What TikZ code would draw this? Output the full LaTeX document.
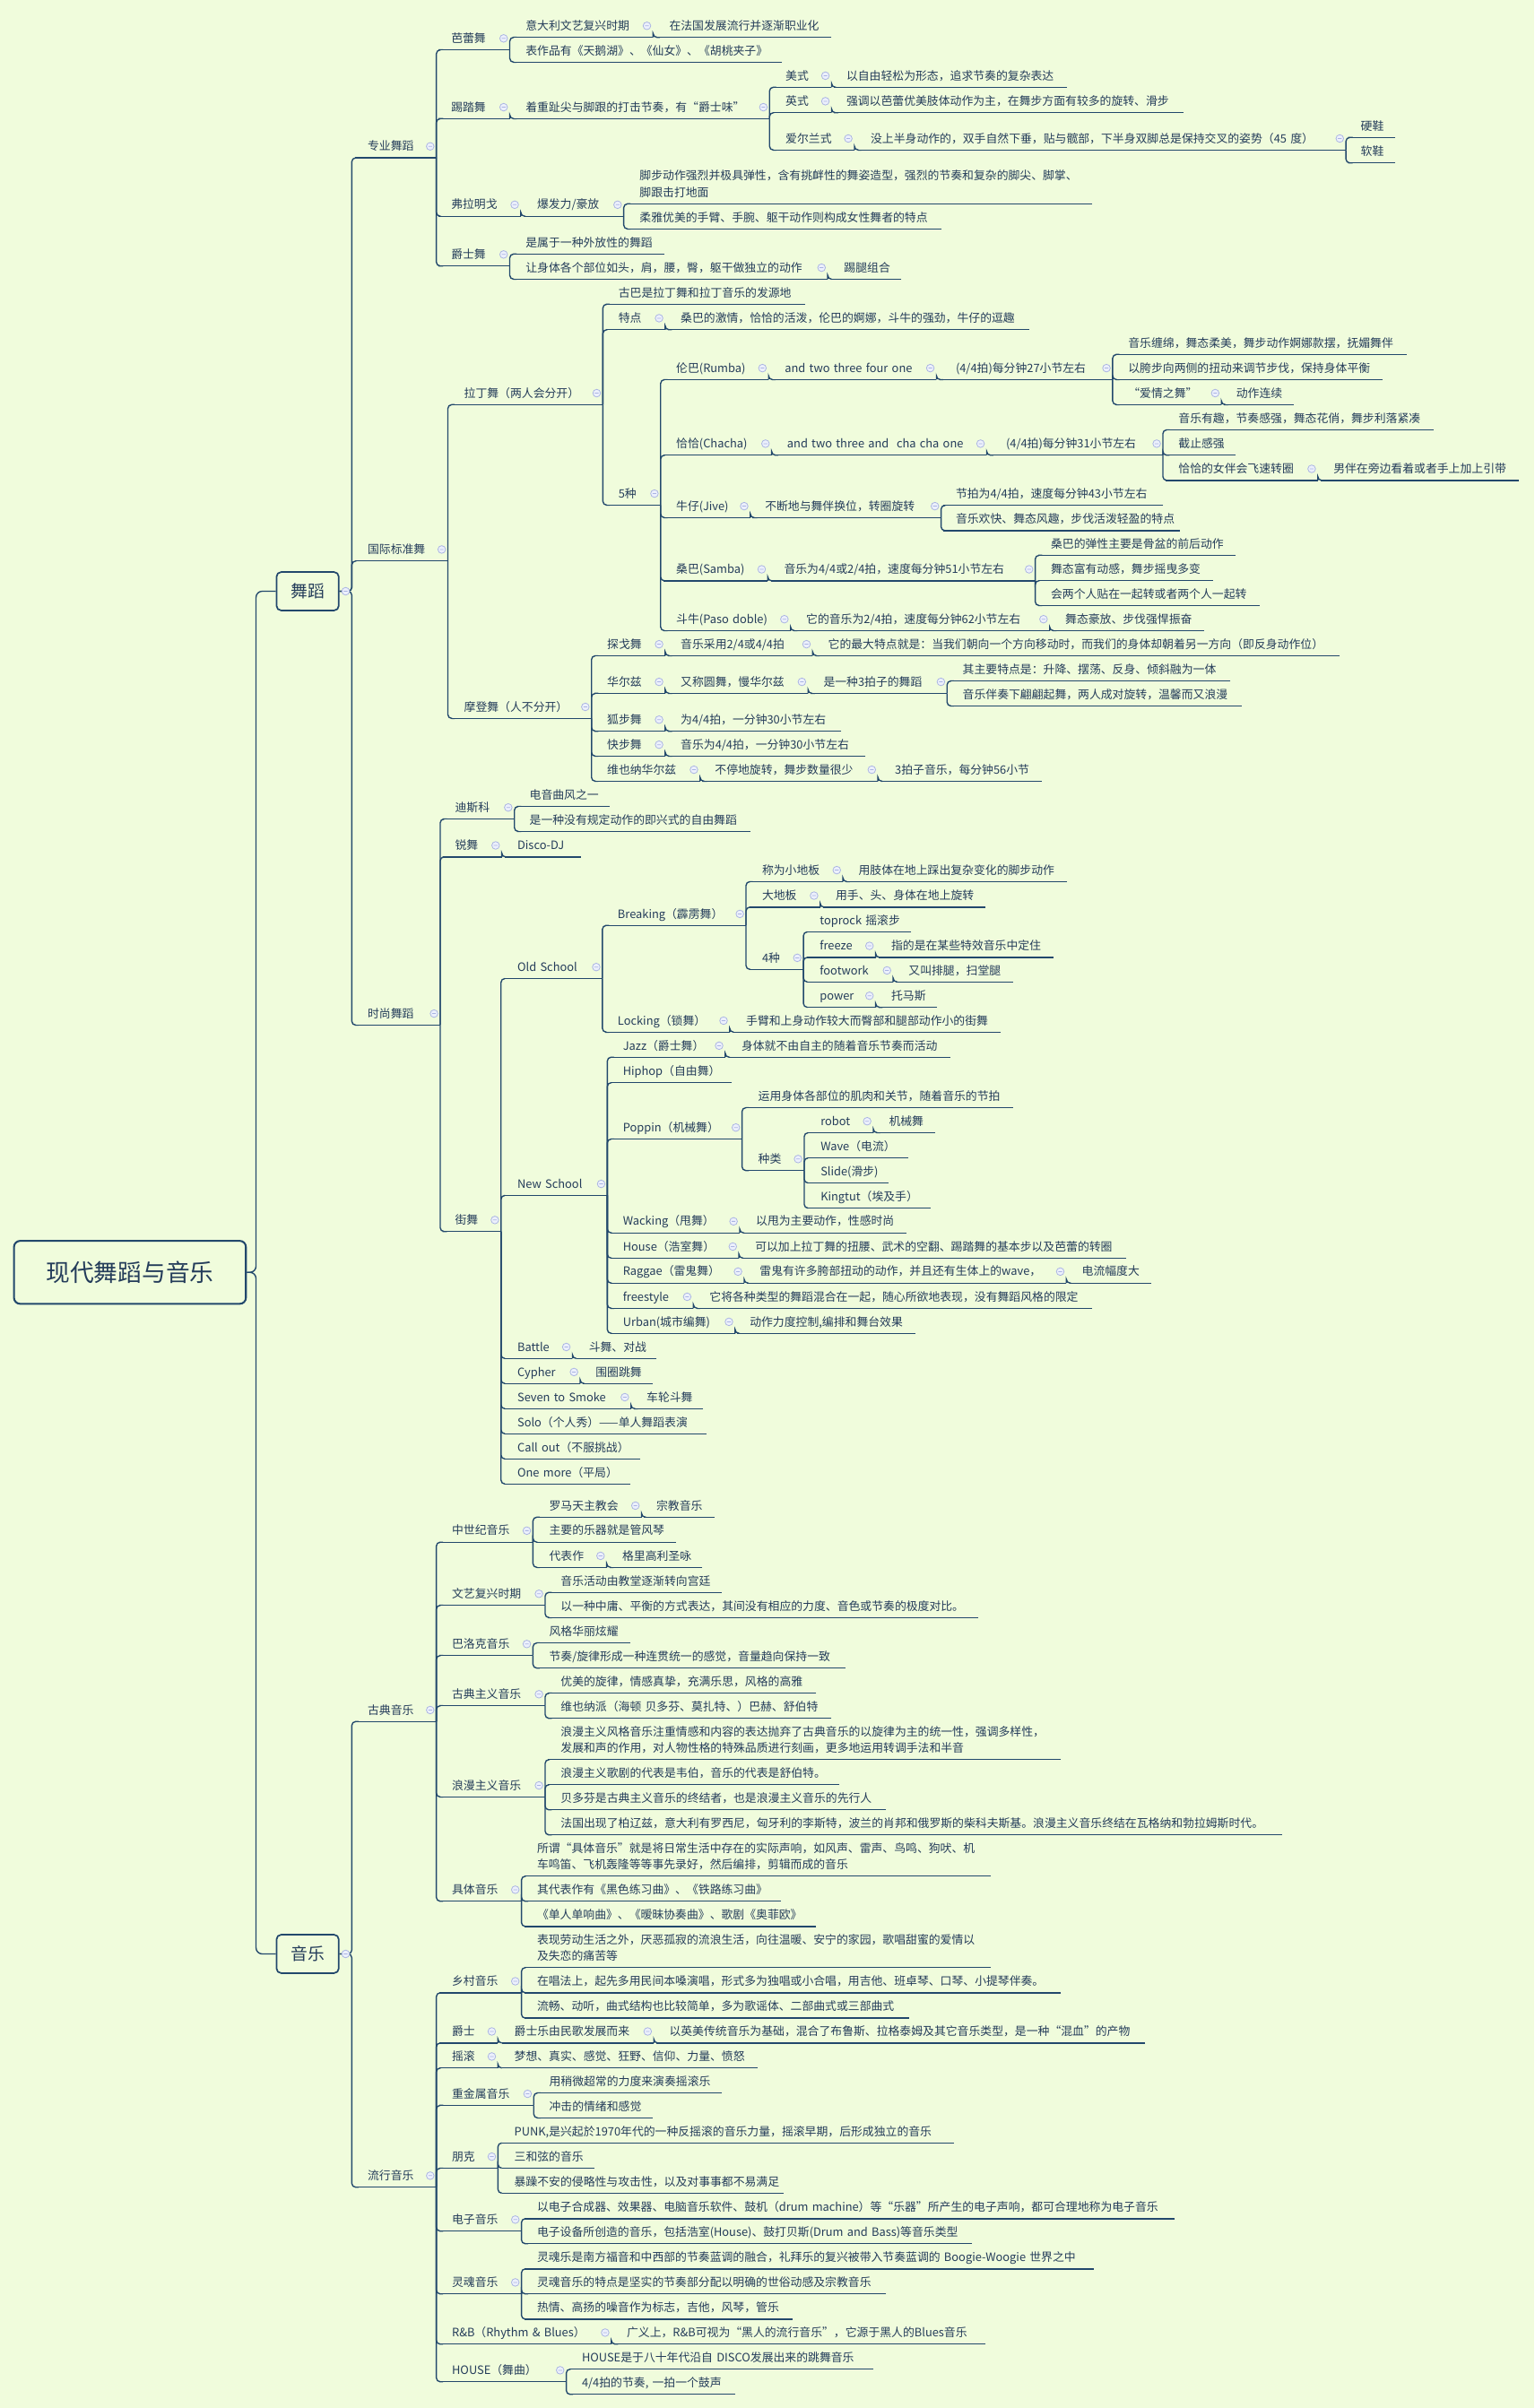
\documentclass[tikz,border=0pt]{standalone}
\usepackage{fontspec}
\setmainfont{Noto Sans CJK SC}
\usepackage{tikz}
\usetikzlibrary{positioning}

\definecolor{paper}{RGB}{240,252,220}
\definecolor{ink}{RGB}{36,60,90}
\definecolor{wire}{RGB}{34,72,108}
\definecolor{knob}{RGB}{170,180,226}
\definecolor{knobfill}{RGB}{236,240,252}

\begin{document}
\begin{tikzpicture}[x=1pt, y=-1pt,
  topic/.style={anchor=south west, inner xsep=0pt, inner ysep=1.4pt, align=left, text=ink,
    font=\fontsize{7.5}{10.7}\selectfont, execute at begin node=\strut, execute at end node=\strut,
    append after command={(\tikzlastnode.south east) edge[uline] ([xshift=-8pt]\tikzlastnode.south west)}},
  uline/.style={draw=wire, line width=0.8pt},
  conn/.style={draw=wire, line width=0.8pt, rounded corners=2.5pt},
  mainbox/.style={draw=wire, line width=1pt, rounded corners=3pt, fill=paper, text=ink, inner sep=0pt},
  knobmark/.style={draw=knob, fill=knobfill, line width=0.45pt}]

\useasboundingbox (0,0) rectangle (999,1568);
\fill[paper] (0,0) rectangle (999,1568);

% root and the two main branches
\node[mainbox, line width=1.2pt, rounded corners=4pt, minimum width=151pt, minimum height=41pt,
  font=\fontsize{15.6}{18}\selectfont] (root) at (84.6,828.5) {现代舞蹈与音乐};
\node[mainbox, minimum width=40.5pt, minimum height=25pt, font=\fontsize{11}{13}\selectfont] (dance) at (200.3,385) {舞蹈};
\node[mainbox, minimum width=40.5pt, minimum height=25pt, font=\fontsize{11}{13}\selectfont] (music) at (200.3,1272.3) {音乐};

% ---------- 舞蹈 ----------
\node[topic, text width=44.5pt] (pro) at (239.2,102.8) {专业舞蹈};
\node[topic, text width=52pt] (intl) at (239.2,365.3) {国际标准舞};
\node[topic, text width=47pt] (fashion) at (239.2,667.5) {时尚舞蹈};

% 专业舞蹈
\node[topic, text width=37.9pt] (ballet) at (293.6,32.5) {芭蕾舞};
\node[topic, text width=82.7pt] (bal1) at (342.1,24.3) {意大利文艺复兴时期};
\node[topic, text width=105.4pt] (bal1a) at (435.6,24.3) {在法国发展流行并逐渐职业化};
\node[topic, text width=166.7pt] (bal2) at (342.1,40.5) {表作品有《天鹅湖》、《仙女》、《胡桃夹子》};
\node[topic, text width=37.9pt] (tap) at (293.6,77.3) {踢踏舞};
\node[topic, text width=158.5pt] (tap1) at (342.1,77.3) {着重趾尖与脚跟的打击节奏，有“爵士味”};
\node[topic, text width=29.7pt] (tapUS) at (511.3,56.8) {美式};
\node[topic, text width=143.4pt] (tapUSa) at (550.9,56.8) {以自由轻松为形态，追求节奏的复杂表达};
\node[topic, text width=29.7pt] (tapUK) at (511.3,73.4) {英式};
\node[topic, text width=219.1pt] (tapUKa) at (550.9,73.4) {强调以芭蕾优美肢体动作为主，在舞步方面有较多的旋转、滑步};
\node[topic, text width=44.6pt] (tapIE) at (511.3,97.7) {爱尔兰式};
\node[topic, text width=309.2pt] (tapIEa) at (566.7,97.7) {没上半身动作的，双手自然下垂，贴与髋部，下半身双脚总是保持交叉的姿势（45~度）};
\node[topic, text width=22.2pt] (hard) at (885.8,89.5) {硬鞋};
\node[topic, text width=22.2pt] (soft) at (885.8,106.1) {软鞋};
\node[topic, text width=45.1pt] (flam) at (293.6,140.8) {弗拉明戈};
\node[topic, text width=56.2pt] (flam1) at (349.5,140.8) {爆发力/豪放};
\node[topic, text width=294.4pt] (flam1a) at (416.3,132.7) {脚步动作强烈并极具弹性，含有挑衅性的舞姿造型，强烈的节奏和复杂的脚尖、脚掌、\\脚跟击打地面};
\node[topic, text width=196.4pt] (flam1b) at (416.3,149.1) {柔雅优美的手臂、手腕、躯干动作则构成女性舞者的特点};
\node[topic, text width=37.9pt] (jazzd) at (293.6,173.2) {爵士舞};
\node[topic, text width=89.9pt] (jz1) at (342.1,165.4) {是属于一种外放性的舞蹈};
\node[topic, text width=196.4pt] (jz2) at (342.1,181.8) {让身体各个部位如头，肩，腰，臀，躯干做独立的动作};
\node[topic, text width=37.1pt] (jz2a) at (549.4,181.8) {踢腿组合};

% 国际标准舞
\node[topic, text width=90.1pt] (latin) at (302,263.5) {拉丁舞（两人会分开）};
\node[topic, text width=121.2pt] (lt1) at (402.5,198.1) {古巴是拉丁舞和拉丁音乐的发源地};
\node[topic, text width=30.2pt] (lt2) at (402.5,214.7) {特点};
\node[topic, text width=226.6pt] (lt2a) at (443,214.7) {桑巴的激情，恰恰的活泼，伦巴的婀娜，斗牛的强劲，牛仔的逗趣};
\node[topic, text width=27.2pt] (five) at (402.5,328.9) {5种};
\node[topic, text width=59.9pt] (rumba) at (440.1,247.2) {伦巴(Rumba)};
\node[topic, text width=98.5pt] (rumba1) at (510.8,247.2) {and~two~three~four~one};
\node[topic, text width=101.9pt] (rumba2) at (622.1,247.2) {(4/4拍)每分钟27小节左右};
\node[topic, text width=181.1pt] (rb1) at (734.4,230.8) {音乐缠绵，舞态柔美，舞步动作婀娜款摆，抚媚舞伴};
\node[topic, text width=165.2pt] (rb2) at (734.4,247.2) {以胯步向两侧的扭动来调节步伐，保持身体平衡};
\node[topic, text width=60.4pt] (rb3) at (734.4,263.5) {“爱情之舞”};
\node[topic, text width=37.1pt] (rb3a) at (804.7,263.5) {动作连续};
\node[topic, text width=61.9pt] (chacha) at (440.1,296.4) {恰恰(Chacha)};
\node[topic, text width=129.7pt] (cc1) at (512.3,296.4) {and~two~three~and~~cha~cha~one};
\node[topic, text width=101.9pt] (cc2) at (654.8,296.4) {(4/4拍)每分钟31小节左右};
\node[topic, text width=165.7pt] (ccA) at (767.1,279.9) {音乐有趣，节奏感强，舞态花俏，舞步利落紧凑};
\node[topic, text width=37.1pt] (ccB) at (767.1,296.4) {截止感强};
\node[topic, text width=90.5pt] (ccC) at (767.1,312.8) {恰恰的女伴会飞速转圈};
\node[topic, text width=120.7pt] (ccCa) at (868,312.8) {男伴在旁边看着或者手上加上引带};
\node[topic, text width=48pt] (jive) at (440.1,337.1) {牛仔(Jive)};
\node[topic, text width=114.4pt] (jv1) at (497.9,337.1) {不断地与舞伴换位，转圈旋转};
\node[topic, text width=134.9pt] (jvA) at (622.1,329.1) {节拍为4/4拍，速度每分钟43小节左右};
\node[topic, text width=145.5pt] (jvB) at (622.1,345.5) {音乐欢快、舞态风趣，步伐活泼轻盈的特点};
\node[topic, text width=59.4pt] (samba) at (440.1,378.2) {桑巴(Samba)};
\node[topic, text width=163.3pt] (sb1) at (510.3,378.2) {音乐为4/4或2/4拍，速度每分钟51小节左右};
\node[topic, text width=120.2pt] (sbA) at (684,361.6) {桑巴的弹性主要是骨盆的前后动作};
\node[topic, text width=105.3pt] (sbB) at (684,378.1) {舞态富有动感，舞步摇曳多变};
\node[topic, text width=135.5pt] (sbC) at (684,394.3) {会两个人贴在一起转或者两个人一起转};
\node[topic, text width=74.2pt] (paso) at (440.1,410.7) {斗牛(Paso~doble)};
\node[topic, text width=158.3pt] (ps1) at (524.7,410.7) {它的音乐为2/4拍，速度每分钟62小节左右};
\node[topic, text width=90pt] (ps2) at (693.4,410.7) {舞态豪放、步伐强悍振奋};
\node[topic, text width=82.7pt] (modern) at (302,467.8) {摩登舞（人不分开）};
\node[topic, text width=37.6pt] (tango) at (395.1,427) {探戈舞};
\node[topic, text width=85.7pt] (tg1) at (443,427) {音乐采用2/4或4/4拍};
\node[topic, text width=333pt] (tg2) at (539,427) {它的最大特点就是：当我们朝向一个方向移动时，而我们的身体却朝着另一方向（即反身动作位）};
\node[topic, text width=37.6pt] (waltz) at (395.1,451.5) {华尔兹};
\node[topic, text width=82.7pt] (wz1) at (443,451.5) {又称圆舞，慢华尔兹};
\node[topic, text width=80.2pt] (wz2) at (536,451.5) {是一种3拍子的舞蹈};
\node[topic, text width=174.1pt] (wzA) at (626.6,443.4) {其主要特点是：升降、摆荡、反身、倾斜融为一体};
\node[topic, text width=181.5pt] (wzB) at (626.6,459.7) {音乐伴奏下翩翩起舞，两人成对旋转，温馨而又浪漫};
\node[topic, text width=37.6pt] (fox) at (395.1,476.1) {狐步舞};
\node[topic, text width=104.4pt] (fx1) at (443,476.1) {为4/4拍，一分钟30小节左右};
\node[topic, text width=37.6pt] (quick) at (395.1,492.4) {快步舞};
\node[topic, text width=120.2pt] (qk1) at (443,492.4) {音乐为4/4拍，一分钟30小节左右};
\node[topic, text width=60.3pt] (vwaltz) at (395.1,508.7) {维也纳华尔兹};
\node[topic, text width=105.9pt] (vw1) at (465.3,508.7) {不停地旋转，舞步数量很少};
\node[topic, text width=95.5pt] (vw2) at (582.5,508.7) {3拍子音乐，每分钟56小节};

% 时尚舞蹈
\node[topic, text width=38.4pt] (disco) at (296.1,533.3) {迪斯科};
\node[topic, text width=51.9pt] (dc1) at (344.6,525.1) {电音曲风之一};
\node[topic, text width=143.4pt] (dc2) at (344.6,541.4) {是一种没有规定动作的即兴式的自由舞蹈};
\node[topic, text width=30.2pt] (rave) at (296.1,558) {锐舞};
\node[topic, text width=41pt] (rv1) at (336.7,558) {Disco-DJ};
\node[topic, text width=29.7pt] (street) at (296.1,801.9) {街舞};
\node[topic, text width=55.1pt] (old) at (336.7,637.2) {Old~School};
\node[topic, text width=83.3pt] (break) at (402,602.6) {Breaking（霹雳舞）};
\node[topic, text width=52.4pt] (bk1) at (496,574.1) {称为小地板};
\node[topic, text width=135.5pt] (bk1a) at (558.8,574.1) {用肢体在地上踩出复杂变化的脚步动作};
\node[topic, text width=37.6pt] (bk2) at (496,590.7) {大地板};
\node[topic, text width=97.5pt] (bk2a) at (543.9,590.7) {用手、头、身体在地上旋转};
\node[topic, text width=26.7pt] (bk3) at (496,631.2) {4种};
\node[topic, text width=59.3pt] (top) at (533.6,606.8) {toprock~摇滚步};
\node[topic, text width=36.1pt] (frz) at (533.6,623.4) {freeze};
\node[topic, text width=105.3pt] (frza) at (580.1,623.4) {指的是在某些特效音乐中定住};
\node[topic, text width=47.5pt] (fw) at (533.6,639.4) {footwork};
\node[topic, text width=67.8pt] (fwa) at (591.4,639.4) {又叫排腿，扫堂腿};
\node[topic, text width=36.1pt] (pw) at (533.6,655.9) {power};
\node[topic, text width=29.6pt] (pwa) at (580.1,655.9) {托马斯};
\node[topic, text width=72.7pt] (lock) at (402,672.1) {Locking（锁舞）};
\node[topic, text width=165.7pt] (lk1) at (485.6,672.1) {手臂和上身动作较大而臀部和腿部动作小的街舞};
\node[topic, text width=58.3pt] (new) at (336.7,778.4) {New~School};
\node[topic, text width=66.4pt] (jazzs) at (405.4,688.4) {Jazz（爵士舞）};
\node[topic, text width=135.6pt] (jzs1) at (482.6,688.4) {身体就不由自主的随着音乐节奏而活动};
\node[topic, text width=70.8pt] (hiphop) at (405.4,705) {Hiphop（自由舞）};
\node[topic, text width=77.3pt] (poppin) at (405.4,741.7) {Poppin（机械舞）};
\node[topic, text width=165.7pt] (pp1) at (493.5,721.3) {运用身体各部位的肌肉和关节，随着音乐的节拍};
\node[topic, text width=29.7pt] (pp2) at (493.5,762.2) {种类};
\node[topic, text width=34.1pt] (robot) at (534.1,737.6) {robot};
\node[topic, text width=29.7pt] (robota) at (578.6,737.6) {机械舞};
\node[topic, text width=56.9pt] (wave) at (534.1,754) {Wave（电流）};
\node[topic, text width=44pt] (slide) at (534.1,770.3) {Slide(滑步)};
\node[topic, text width=71.2pt] (king) at (534.1,786.7) {Kingtut（埃及手）};
\node[topic, text width=75.8pt] (wack) at (405.4,802.8) {Wacking（甩舞）};
\node[topic, text width=97.5pt] (wk1) at (492,802.8) {以甩为主要动作，性感时尚};
\node[topic, text width=75.3pt] (house) at (405.4,819.2) {House（浩室舞）};
\node[topic, text width=241.4pt] (hs1) at (491.5,819.2) {可以加上拉丁舞的扭腰、武术的空翻、踢踏舞的基本步以及芭蕾的转圈};
\node[topic, text width=78.7pt] (raggae) at (405.4,835.5) {Raggae（雷鬼舞）};
\node[topic, text width=199.4pt] (rg1) at (494.5,835.5) {雷鬼有许多胯部扭动的动作，并且还有生体上的wave，};
\node[topic, text width=45pt] (rg2) at (704.2,835.5) {电流幅度大};
\node[topic, text width=45.6pt] (free) at (405.4,851.9) {freestyle};
\node[topic, text width=248.9pt] (fr1) at (461.8,851.9) {它将各种类型的舞蹈混合在一起，随心所欲地表现，没有舞蹈风格的限定};
\node[topic, text width=72.8pt] (urban) at (405.4,868.2) {Urban(城市编舞)};
\node[topic, text width=107.4pt] (ub1) at (488,868.2) {动作力度控制,编排和舞台效果};
\node[topic, text width=35.6pt] (battle) at (336.7,884.6) {Battle};
\node[topic, text width=44pt] (bt1) at (383.2,884.6) {斗舞、对战};
\node[topic, text width=40.6pt] (cypher) at (336.7,900.9) {Cypher};
\node[topic, text width=37.1pt] (cy1) at (387.6,900.9) {围圈跳舞};
\node[topic, text width=73.7pt] (seven) at (336.7,917.3) {Seven~to~Smoke};
\node[topic, text width=36.6pt] (sv1) at (420.8,917.3) {车轮斗舞};
\node[topic, text width=122.7pt] (solo) at (336.7,933.6) {Solo（个人秀）——单人舞蹈表演};
\node[topic, text width=79.6pt] (callout) at (336.7,950) {Call~out（不服挑战）};
\node[topic, text width=73.2pt] (onemore) at (336.7,966.3) {One~more（平局）};

% ---------- 音乐 ----------
\node[topic, text width=44.5pt] (classic) at (239.2,1121) {古典音乐};
\node[topic, text width=44.5pt] (pop) at (239.2,1424.2) {流行音乐};

% 古典音乐
\node[topic, text width=52.5pt] (medi) at (294.1,1004.2) {中世纪音乐};
\node[topic, text width=59.9pt] (md1) at (357.4,987.9) {罗马天主教会};
\node[topic, text width=37.6pt] (md1a) at (427.2,987.9) {宗教音乐};
\node[topic, text width=82.2pt] (md2) at (357.4,1004.2) {主要的乐器就是管风琴};
\node[topic, text width=37.2pt] (md3) at (357.4,1020.6) {代表作};
\node[topic, text width=51.9pt] (md3a) at (405,1020.6) {格里高利圣咏};
\node[topic, text width=60.4pt] (renai) at (294.1,1045.3) {文艺复兴时期};
\node[topic, text width=104.4pt] (rn1) at (364.9,1036.9) {音乐活动由教堂逐渐转向宫廷};
\node[topic, text width=271.6pt] (rn2) at (364.9,1053.3) {以一种中庸、平衡的方式表达，其间没有相应的力度、音色或节奏的极度对比。};
\node[topic, text width=52.5pt] (baroque) at (294.1,1078) {巴洛克音乐};
\node[topic, text width=52.5pt] (bq1) at (357.4,1069.8) {风格华丽炫耀};
\node[topic, text width=192.5pt] (bq2) at (357.4,1086.2) {节奏/旋律形成一种连贯统一的感觉，音量趋向保持一致};
\node[topic, text width=60.4pt] (classi) at (294.1,1110.7) {古典主义音乐};
\node[topic, text width=166.2pt] (cl1) at (364.9,1102.5) {优美的旋律，情感真挚，充满乐思，风格的高雅};
\node[topic, text width=176.1pt] (cl2) at (364.9,1118.9) {维也纳派（海顿~贝多芬、莫扎特、）巴赫、舒伯特};
\node[topic, text width=60.4pt] (roman) at (294.1,1170.1) {浪漫主义音乐};
\node[topic, text width=325.5pt] (rm1) at (364.9,1145.8) {浪漫主义风格音乐注重情感和内容的表达抛弃了古典音乐的以旋律为主的统一性，强调多样性，\\发展和声的作用，对人物性格的特殊品质进行刻画，更多地运用转调手法和半音};
\node[topic, text width=181.1pt] (rm2) at (364.9,1162.1) {浪漫主义歌剧的代表是韦伯，音乐的代表是舒伯特。};
\node[topic, text width=211.7pt] (rm3) at (364.9,1178.5) {贝多芬是古典主义音乐的终结者，也是浪漫主义音乐的先行人};
\node[topic, text width=469.4pt] (rm4) at (364.9,1194.8) {法国出现了柏辽兹，意大利有罗西尼，匈牙利的李斯特，波兰的肖邦和俄罗斯的柴科夫斯基。浪漫主义音乐终结在瓦格纳和勃拉姆斯时代。};
\node[topic, text width=45pt] (concrete) at (294.1,1238) {具体音乐};
\node[topic, text width=295.4pt] (cn1) at (349.5,1221.7) {所谓“具体音乐”就是将日常生活中存在的实际声响，如风声、雷声、鸟鸣、狗吠、机\\车鸣笛、飞机轰隆等等事先录好，然后编排，剪辑而成的音乐};
\node[topic, text width=158.3pt] (cn2) at (349.5,1238) {其代表作有《黑色练习曲》、《铁路练习曲》};
\node[topic, text width=181.6pt] (cn3) at (349.5,1254.4) {《单人单响曲》、《暧昧协奏曲》、歌剧《奥菲欧》};

% 流行音乐
\node[topic, text width=45pt] (country) at (294.1,1297.6) {乡村音乐};
\node[topic, text width=295.4pt] (ct1) at (349.5,1281.2) {表现劳动生活之外，厌恶孤寂的流浪生活，向往温暖、安宁的家园，歌唱甜蜜的爱情以\\及失恋的痛苦等};
\node[topic, text width=340.9pt] (ct2) at (349.5,1297.6) {在唱法上，起先多用民间本嗓演唱，形式多为独唱或小合唱，用吉他、班卓琴、口琴、小提琴伴奏。};
\node[topic, text width=241.9pt] (ct3) at (349.5,1314.1) {流畅、动听，曲式结构也比较简单，多为歌谣体、二部曲式或三部曲式};
\node[topic, text width=29.7pt] (jazzm) at (294.1,1330.3) {爵士};
\node[topic, text width=90.6pt] (jm1) at (334.7,1330.3) {爵士乐由民歌发展而来};
\node[topic, text width=309.7pt] (jm2) at (435.6,1330.3) {以英美传统音乐为基础，混合了布鲁斯、拉格泰姆及其它音乐类型，是一种“混血”的产物};
\node[topic, text width=29.7pt] (rock) at (294.1,1346.6) {摇滚};
\node[topic, text width=158.3pt] (rk1) at (334.7,1346.6) {梦想、真实、感觉、狂野、信仰、力量、愤怒};
\node[topic, text width=53pt] (metal) at (294.1,1370.9) {重金属音乐};
\node[topic, text width=112.3pt] (mt1) at (357.4,1362.8) {用稍微超常的力度来演奏摇滚乐};
\node[topic, text width=67.3pt] (mt2) at (357.4,1379.1) {冲击的情绪和感觉};
\node[topic, text width=29.7pt] (punk) at (294.1,1411.8) {朋克};
\node[topic, text width=285.9pt] (pk1) at (334.7,1395.4) {PUNK,是兴起於1970年代的一种反摇滚的音乐力量，摇滚早期，后形成独立的音乐};
\node[topic, text width=51.9pt] (pk2) at (334.7,1411.8) {三和弦的音乐};
\node[topic, text width=175.1pt] (pk3) at (334.7,1428.1) {暴躁不安的侵略性与攻击性，以及对事事都不易满足};
\node[topic, text width=45pt] (electro) at (294.1,1452.8) {电子音乐};
\node[topic, text width=415.1pt] (el1) at (349.5,1444.7) {以电子合成器、效果器、电脑音乐软件、鼓机（drum~machine）等“乐器”所产生的电子声响，都可合理地称为电子音乐};
\node[topic, text width=283pt] (el2) at (349.5,1461) {电子设备所创造的音乐，包括浩室(House)、鼓打贝斯(Drum~and~Bass)等音乐类型};
\node[topic, text width=45pt] (soul) at (294.1,1493.7) {灵魂音乐};
\node[topic, text width=362.1pt] (sl1) at (349.5,1477.4) {灵魂乐是南方福音和中西部的节奏蓝调的融合，礼拜乐的复兴被带入节奏蓝调的~Boogie-Woogie~世界之中};
\node[topic, text width=227.1pt] (sl2) at (349.5,1493.7) {灵魂音乐的特点是坚实的节奏部分配以明确的世俗动感及宗教音乐};
\node[topic, text width=166.2pt] (sl3) at (349.5,1510.1) {热情、高扬的噪音作为标志，吉他，风琴，管乐};
\node[topic, text width=103.5pt] (rnb) at (294.1,1526.4) {R\&B（Rhythm~\&~Blues）};
\node[topic, text width=233.5pt] (rnb1) at (407.9,1526.4) {广义上，R\&B可视为“黑人的流行音乐”，它源于黑人的Blues音乐};
\node[topic, text width=74.2pt] (housem) at (294.1,1550.9) {HOUSE（舞曲）};
\node[topic, text width=189.5pt] (hm1) at (378.7,1542.7) {HOUSE是于八十年代沿自~DISCO发展出来的跳舞音乐};
\node[topic, text width=99.5pt] (hm2) at (378.7,1559.1) {4/4拍的节奏,~一拍一个鼓声};

% connectors
\draw[conn, rounded corners=4pt] (root.east) -- ++(6,0) |- (dance.west);
\draw[conn, rounded corners=4pt] (root.east) -- ++(6,0) |- (music.west);
\foreach \c in {pro,intl,fashion}
  \draw[conn] (dance.east) -- ++(8,0) |- ([xshift=-8pt]\c.south west);
\foreach \c in {classic,pop}
  \draw[conn] (music.east) -- ++(8,0) |- ([xshift=-8pt]\c.south west);
\foreach \b in {dance,music}
  \draw[knobmark] ([xshift=4pt]\b.east) circle[radius=2.5pt] ++(-1.2pt,0) -- ++(2.4pt,0);

\foreach \p/\kids in {pro/{ballet,tap,flam,jazzd}, ballet/{bal1,bal2}, bal1/bal1a,
    tap/tap1, tap1/{tapUS,tapUK,tapIE}, tapUS/tapUSa, tapUK/tapUKa, tapIE/tapIEa, tapIEa/{hard,soft},
    flam/flam1, flam1/{flam1a,flam1b}, jazzd/{jz1,jz2}, jz2/jz2a,
    intl/{latin,modern}, latin/{lt1,lt2,five}, lt2/lt2a, five/{rumba,chacha,jive,samba,paso},
    rumba/rumba1, rumba1/rumba2, rumba2/{rb1,rb2,rb3}, rb3/rb3a,
    chacha/cc1, cc1/cc2, cc2/{ccA,ccB,ccC}, ccC/ccCa,
    jive/jv1, jv1/{jvA,jvB}, samba/sb1, sb1/{sbA,sbB,sbC}, paso/ps1, ps1/ps2,
    modern/{tango,waltz,fox,quick,vwaltz}, tango/tg1, tg1/tg2, waltz/wz1, wz1/wz2, wz2/{wzA,wzB},
    fox/fx1, quick/qk1, vwaltz/vw1, vw1/vw2,
    fashion/{disco,rave,street}, disco/{dc1,dc2}, rave/rv1,
    street/{old,new,battle,cypher,seven,solo,callout,onemore},
    old/{break,lock}, break/{bk1,bk2,bk3}, bk1/bk1a, bk2/bk2a, bk3/{top,frz,fw,pw},
    frz/frza, fw/fwa, pw/pwa, lock/lk1,
    new/{jazzs,hiphop,poppin,wack,house,raggae,free,urban}, jazzs/jzs1, poppin/{pp1,pp2},
    pp2/{robot,wave,slide,king}, robot/robota, wack/wk1, house/hs1, raggae/rg1, rg1/rg2,
    free/fr1, urban/ub1, battle/bt1, cypher/cy1, seven/sv1,
    classic/{medi,renai,baroque,classi,roman,concrete}, medi/{md1,md2,md3}, md1/md1a, md3/md3a,
    renai/{rn1,rn2}, baroque/{bq1,bq2}, classi/{cl1,cl2}, roman/{rm1,rm2,rm3,rm4}, concrete/{cn1,cn2,cn3},
    pop/{country,jazzm,rock,metal,punk,electro,soul,rnb,housem}, country/{ct1,ct2,ct3},
    jazzm/jm1, jm1/jm2, rock/rk1, metal/{mt1,mt2}, punk/{pk1,pk2,pk3}, electro/{el1,el2},
    soul/{sl1,sl2,sl3}, rnb/rnb1, housem/{hm1,hm2}} {
  \foreach \c in \kids
    \draw[conn] (\p.south east) |- ([xshift=-8pt]\c.south west);
  % fold marker
  \draw[knobmark] ([xshift=-4pt,yshift=7.5pt]\p.south east) circle[radius=2.5pt] ++(-1.2pt,0) -- ++(2.4pt,0);
}

\end{tikzpicture}
\end{document}
